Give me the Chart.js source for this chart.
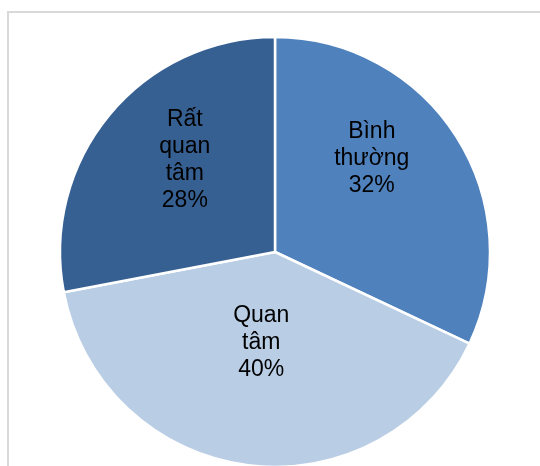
<!DOCTYPE html>
<html lang="vi">
<head>
    <meta charset="UTF-8">
    <title>Mức độ quan tâm</title>
    <script src="https://cdn.jsdelivr.net/npm/chart.js"></script>
    <style>
        html, body {
            margin: 0;
            padding: 0;
            background: #ffffff;
            overflow: hidden;
        }
        #wrap {
            position: relative;
            width: 540px;
            height: 466px;
        }
        #frame {
            position: absolute;
            left: 7px;
            top: 11px;
            width: 600px;
            height: 500px;
            border: 2px solid #d9d9d9;
            box-sizing: border-box;
        }
        #pieChart {
            position: absolute;
            left: 0;
            top: 0;
        }
    </style>
</head>
<body>
    <div id="wrap">
        <div id="frame"></div>
        <canvas id="pieChart" width="540" height="466"></canvas>
    </div>

    <script>
        // Data
        const categories = ['Bình thường', 'Quan tâm', 'Rất quan tâm'];
        const labelLines = [['Bình', 'thường'], ['Quan', 'tâm'], ['Rất', 'quan', 'tâm']];
        const values = [32, 40, 28];
        const colors = ['#4f81bd', '#b9cde5', '#376092'];

        // Where each label sits inside its slice (share of the arc span, share of the radius)
        const labelAngleShare = [0.40, 0.51, 0.56];
        const labelRadiusShare = [0.625, 0.425, 0.60];

        const sliceLabels = {
            id: 'sliceLabels',
            afterDatasetsDraw(chart) {
                const ctx = chart.ctx;
                const meta = chart.getDatasetMeta(0);
                const total = values.reduce((a, b) => a + b, 0);
                ctx.save();
                ctx.font = '23px "Liberation Sans", Arial, sans-serif';
                ctx.fillStyle = '#000000';
                ctx.textAlign = 'center';
                ctx.textBaseline = 'middle';
                meta.data.forEach((arc, i) => {
                    const p = arc.getProps(['x', 'y', 'startAngle', 'endAngle', 'outerRadius'], true);
                    const a = p.startAngle + (p.endAngle - p.startAngle) * labelAngleShare[i];
                    const r = p.outerRadius * labelRadiusShare[i];
                    const cx = p.x + Math.cos(a) * r;
                    const cy = p.y + Math.sin(a) * r;
                    const lines = labelLines[i].concat([Math.round(values[i] / total * 100) + '%']);
                    const lh = 27;
                    const top = cy - (lines.length - 1) * lh / 2;
                    lines.forEach((t, k) => ctx.fillText(t, cx, top + k * lh));
                });
                ctx.restore();
            }
        };

        const ctx = document.getElementById('pieChart').getContext('2d');
        new Chart(ctx, {
            type: 'pie',
            data: {
                labels: categories,
                datasets: [{
                    data: values,
                    backgroundColor: colors,
                    borderColor: '#ffffff',
                    borderWidth: 2.5
                }]
            },
            options: {
                responsive: false,
                animation: false,
                radius: 215,
                layout: {
                    padding: { top: 38, bottom: 0, left: 10, right: 0 }
                },
                plugins: {
                    legend: { display: false },
                    tooltip: { enabled: false }
                }
            },
            plugins: [sliceLabels]
        });
    </script>
</body>
</html>
